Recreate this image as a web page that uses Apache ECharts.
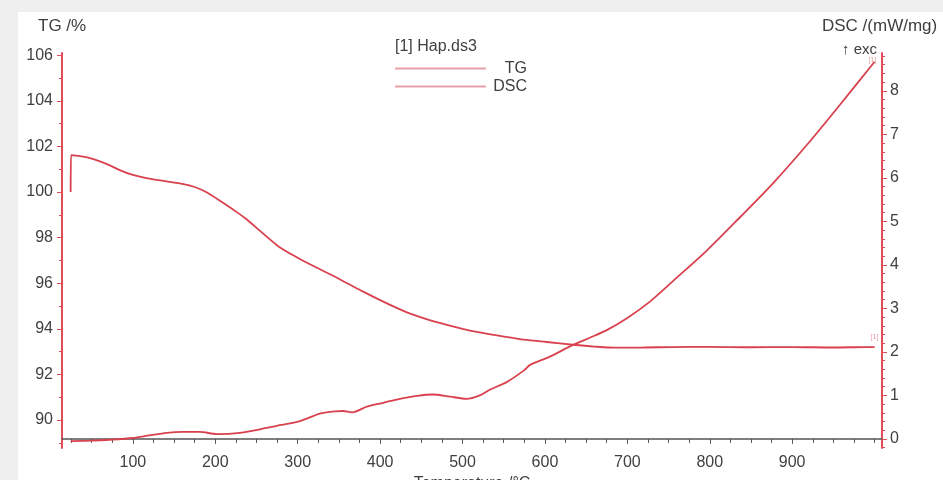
<!DOCTYPE html>
<html>
<head>
<meta charset="utf-8">
<script src="https://cdn.jsdelivr.net/npm/echarts@6/dist/echarts.min.js"></script>
<style>
  html, body { margin: 0; padding: 0; background: #efefef; }
  #wrap { position: relative; width: 943px; height: 480px; overflow: hidden; }
  #paper { position: absolute; left: 18px; top: 12px; right: 0; bottom: 0; background: #ffffff; }
  #chart { position: absolute; left: 0; top: 0; width: 943px; height: 480px; }
</style>
</head>
<body>
<div id="wrap"><div id="paper"></div><div id="chart"></div></div>
<script>
// TG mass curve: [temperature °C, mass %]
const tgData = [
  [24.5, 100.0], [25, 101.62], [40, 101.55], [54, 101.42], [70, 101.2], [87, 100.92],
  [100, 100.75], [115, 100.62], [142, 100.46], [160, 100.36], [175, 100.22], [190, 99.98],
  [208, 99.56], [222, 99.22], [236, 98.86], [260, 98.12], [278, 97.58], [300, 97.12],
  [321, 96.72], [340, 96.38], [360, 96.0], [380, 95.62], [400, 95.26], [420, 94.92],
  [440, 94.62], [460, 94.38], [481, 94.17], [500, 94.0], [521, 93.84], [540, 93.72],
  [561, 93.6], [580, 93.5], [602, 93.42], [634, 93.3], [660, 93.22], [687, 93.17],
  [720, 93.18], [755, 93.2], [800, 93.21], [850, 93.19], [900, 93.2], [950, 93.18],
  [990, 93.2], [1000, 93.2]
];

// DSC heat-flow curve: [temperature °C, mW/mg]
const dscData = [
  [24.5, -0.05], [50, -0.04], [72, -0.02], [100, 0.02], [120, 0.08], [141, 0.14],
  [161, 0.16], [181, 0.16], [202, 0.11], [230, 0.14], [262, 0.25], [280, 0.32],
  [303, 0.41], [327, 0.58], [345, 0.63], [355, 0.64], [366, 0.61], [384, 0.74],
  [404, 0.83], [424, 0.92], [445, 0.99], [464, 1.02], [485, 0.97], [505, 0.92],
  [521, 1.0], [533, 1.13], [554, 1.31], [575, 1.58], [582, 1.7], [606, 1.89],
  [634, 2.16], [655, 2.33], [675, 2.5], [700, 2.78], [727, 3.15], [755, 3.62],
  [797, 4.34], [837, 5.1], [877, 5.88], [918, 6.76], [958, 7.68], [1000, 8.67]
];

// Tick positions
const tempTicks = [100, 200, 300, 400, 500, 600, 700, 800, 900];
const tempMinorTicks = [];
for (let t = 25; t <= 1000; t += 25) tempMinorTicks.push(t);
const tgTicks = [90, 92, 94, 96, 98, 100, 102, 104, 106];
const tgMinorTicks = [89, 90, 91, 92, 93, 94, 95, 96, 97, 98, 99, 100, 101, 102, 103, 104, 105, 106];
const dscTicks = [0, 1, 2, 3, 4, 5, 6, 7, 8];
const dscMinorTicks = [];
for (let i = -1; i <= 44; i++) dscMinorTicks.push(+(i * 0.2).toFixed(1));

const curveColor = '#d8414d';
const axisRed = '#e14d58';
const legendPink = '#e7a1a7';
const textColor = '#3f3f3f';
const font = 'Liberation Sans, Arial, sans-serif';

const chart = echarts.init(document.getElementById('chart'), null, { renderer: 'canvas' });

const baseLabel = { color: textColor, fontSize: 16, fontFamily: font };

chart.setOption({
  backgroundColor: 'transparent',
  animation: false,
  title: {
    text: '[1] Hap.ds3',
    left: 395, top: 39, padding: 0,
    textStyle: { color: textColor, fontSize: 16, fontWeight: 'normal', fontFamily: font }
  },
  legend: {
    orient: 'vertical',
    left: 395, top: 60, padding: 0,
    itemWidth: 91, itemHeight: 2, itemGap: 1,
    icon: 'rect',
    data: [
      { name: 'TG', itemStyle: { color: legendPink } },
      { name: 'DSC', itemStyle: { color: legendPink } }
    ],
    // series names sit right-aligned in a fixed-width box after the line sample
    formatter: name => '{r|' + name + '}',
    textStyle: {
      color: textColor, fontSize: 16, fontFamily: font, lineHeight: 17,
      rich: { r: { width: 36, align: 'right', color: textColor, fontSize: 16, fontFamily: font } }
    }
  },
  graphic: [
    { type: 'text', left: 38, top: 18, style: { text: 'TG /%', fill: textColor, font: '17px ' + font } },
    { type: 'text', left: 822, top: 18, style: { text: 'DSC /(mW/mg)', fill: textColor, font: '17px ' + font } },
    { type: 'text', left: 842, top: 42, style: { text: '↑ exc', fill: textColor, font: '15px ' + font } }
  ],
  grid: { left: 62, right: 61, top: 53, bottom: 32, containLabel: false, outerBoundsMode: 'none' },
  xAxis: [
    {
      type: 'value', min: 14, max: 1009,
      name: 'Temperature /°C', nameLocation: 'middle', nameGap: 24,
      nameTextStyle: { color: textColor, fontSize: 16, fontFamily: font },
      axisLine: { lineStyle: { color: '#555555', width: 1.5 } },
      axisTick: { show: true, length: 5, customValues: tempTicks, lineStyle: { color: '#555555' } },
      axisLabel: Object.assign({ customValues: tempTicks, margin: 7 }, baseLabel),
      splitLine: { show: false }
    },
    {
      type: 'value', min: 14, max: 1009, position: 'bottom',
      axisLine: { show: false },
      axisTick: { show: true, length: 4, customValues: tempMinorTicks, lineStyle: { color: '#555555' } },
      axisLabel: { show: false },
      splitLine: { show: false }
    }
  ],
  yAxis: [
    {
      type: 'value', min: 88.77, max: 106.1, position: 'left',
      axisLine: { show: true, lineStyle: { color: axisRed, width: 2 } },
      axisTick: { show: true, length: 5, customValues: tgTicks, lineStyle: { color: axisRed } },
      axisLabel: Object.assign({ customValues: tgTicks, margin: 9 }, baseLabel),
      splitLine: { show: false }
    },
    {
      type: 'value', min: -0.21, max: 8.87, position: 'right',
      axisLine: { show: true, lineStyle: { color: axisRed, width: 2 } },
      axisTick: { show: true, length: 5, customValues: dscTicks, lineStyle: { color: axisRed } },
      axisLabel: Object.assign({ customValues: dscTicks, margin: 8 }, baseLabel),
      splitLine: { show: false }
    },
    {
      type: 'value', min: 88.77, max: 106.1, position: 'left',
      axisLine: { show: false },
      axisTick: { show: true, length: 3, customValues: tgMinorTicks, lineStyle: { color: axisRed } },
      axisLabel: { show: false },
      splitLine: { show: false }
    },
    {
      type: 'value', min: -0.21, max: 8.87, position: 'right',
      axisLine: { show: false },
      axisTick: { show: true, length: 3, customValues: dscMinorTicks, lineStyle: { color: axisRed } },
      axisLabel: { show: false },
      splitLine: { show: false }
    }
  ],
  series: [
    {
      name: 'TG', type: 'line', xAxisIndex: 0, yAxisIndex: 0,
      data: tgData, showSymbol: false, smooth: 0.3,
      lineStyle: { color: curveColor, width: 1.8 },
      itemStyle: { color: curveColor },
      endLabel: { show: true, formatter: '[1]', fontSize: 7, color: legendPink, offset: [-12, -10] }
    },
    {
      name: 'DSC', type: 'line', xAxisIndex: 0, yAxisIndex: 1,
      data: dscData, showSymbol: false, smooth: 0.3,
      lineStyle: { color: curveColor, width: 1.8 },
      itemStyle: { color: curveColor },
      endLabel: { show: true, formatter: '[1]', fontSize: 7, color: legendPink, offset: [-14, -2] }
    }
  ]
});
</script>
</body>
</html>
